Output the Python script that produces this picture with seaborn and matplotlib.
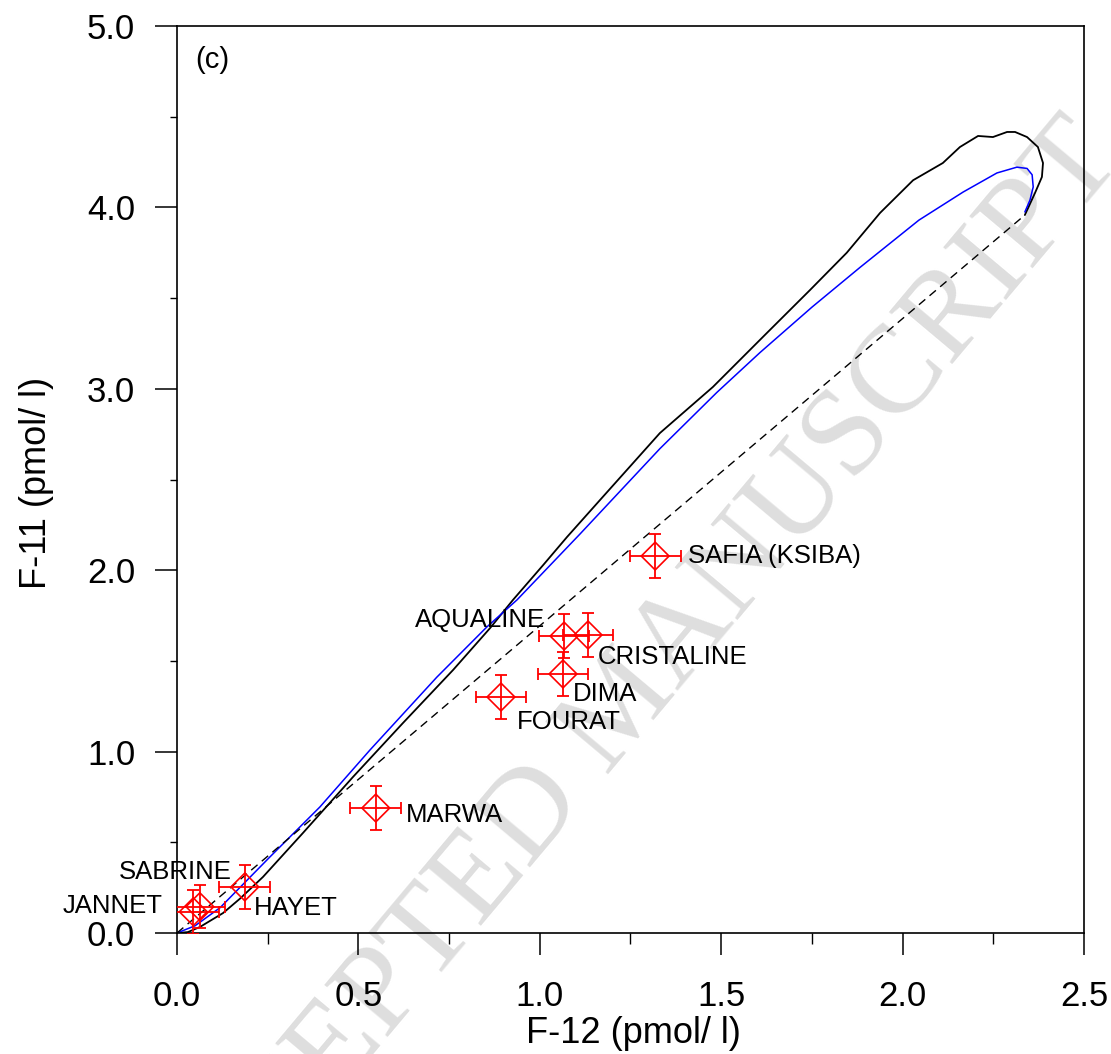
import numpy as np
import pandas as pd
import matplotlib
matplotlib.use("Agg")
import matplotlib.pyplot as plt
import seaborn as sns
from matplotlib.ticker import MultipleLocator, FormatStrFormatter

# ---------------- data ----------------
samples = ["SAFIA (KSIBA)", "AQUALINE", "CRISTALINE", "DIMA", "FOURAT",
           "MARWA", "HAYET", "SABRINE", "JANNET"]
f12 = [1.318, 1.067, 1.133, 1.064, 0.893, 0.548, 0.187, 0.063, 0.045]
f11 = [2.078, 1.637, 1.643, 1.428, 1.301, 0.689, 0.254, 0.145, 0.117]
f12_err = [0.07, 0.07, 0.07, 0.07, 0.07, 0.07, 0.07, 0.07, 0.07]
f11_err = [0.12, 0.12, 0.12, 0.12, 0.12, 0.12, 0.12, 0.12, 0.12]

# piston-flow (atmospheric input) curve
piston_f12 = [0.0, 0.03, 0.063, 0.127, 0.174, 0.237, 0.347, 0.485, 0.623, 0.761,
              0.863, 0.926, 1.01, 1.075, 1.166, 1.331, 1.477, 1.626, 1.745,
              1.846, 1.938, 2.029, 2.111, 2.158, 2.208, 2.249, 2.288, 2.31,
              2.343, 2.373, 2.387, 2.384, 2.365, 2.337]
piston_f11 = [0.0, 0.005, 0.033, 0.11, 0.19, 0.309, 0.551, 0.86, 1.158, 1.45,
              1.681, 1.836, 2.03, 2.183, 2.387, 2.756, 3.01, 3.308, 3.545,
              3.75, 3.97, 4.15, 4.245, 4.333, 4.394, 4.388, 4.416, 4.416,
              4.388, 4.333, 4.245, 4.168, 4.08, 3.958]

# exponential model curve
expo_f12 = [0.0, 0.05, 0.119, 0.256, 0.394, 0.532, 0.716, 0.854, 0.937, 1.111,
            1.331, 1.488, 1.607, 1.75, 1.883, 2.045, 2.167, 2.26, 2.315, 2.343,
            2.357, 2.36, 2.351, 2.337]
expo_f11 = [0.0, 0.04, 0.14, 0.419, 0.695, 1.009, 1.41, 1.687, 1.836, 2.2,
            2.67, 2.98, 3.2, 3.45, 3.67, 3.93, 4.085, 4.19, 4.222, 4.215,
            4.18, 4.113, 4.04, 3.975]

# binary mixing line
mix_f12 = [0.0, 2.337]
mix_f11 = [0.0, 3.958]

# label placement (offsets, alignment)
label_dx = [0.09, -0.053, 0.027, 0.027, 0.044, 0.083, 0.025, 0.088, -0.084]
label_dy = [0.0, 0.088, -0.122, -0.111, -0.138, -0.039, -0.116, 0.191, 0.032]
label_ha = ["left", "right", "left", "left", "left", "left", "left", "right", "right"]

# ---------------- figure ----------------
sns.set_theme(style="ticks")
plt.rcParams["font.family"] = ["Liberation Sans", "DejaVu Sans"]

fig = plt.figure(figsize=(11.11, 10.54), dpi=100)
fig.patch.set_facecolor("white")
ax = fig.add_axes([0.1593, 0.1148, 0.8164, 0.8605])
ax.set_facecolor("none")

# watermark
fig.text(625 / 1111, 1 - 708 / 1054, "ACCEPTED MANUSCRIPT", rotation=50,
         rotation_mode="anchor", ha="center", va="center", fontsize=90,
         family=["Liberation Serif", "DejaVu Serif"], color="#dedede", zorder=-1)

df_p = pd.DataFrame({"F12": piston_f12, "F11": piston_f11})
df_e = pd.DataFrame({"F12": expo_f12, "F11": expo_f11})
df_m = pd.DataFrame({"F12": mix_f12, "F11": mix_f11})

sns.lineplot(data=df_p, x="F12", y="F11", sort=False, estimator=None,
             color="black", linewidth=1.3, ax=ax)
sns.lineplot(data=df_e, x="F12", y="F11", sort=False, estimator=None,
             color="#0000ff", linewidth=1.1, ax=ax)
sns.lineplot(data=df_m, x="F12", y="F11", sort=False, estimator=None,
             color="black", linewidth=1.0, linestyle=(0, (6, 4)), ax=ax)

ax.errorbar(f12, f11, xerr=f12_err, yerr=f11_err, fmt="none", ecolor="red",
            elinewidth=1.3, capsize=4.5, capthick=1.3, zorder=3)
sns.scatterplot(x=f12, y=f11, marker="D", s=200, facecolor="none",
                edgecolor="red", linewidth=1.2, ax=ax, zorder=4)

for name, x, y, dx, dy, ha in zip(samples, f12, f11, label_dx, label_dy, label_ha):
    ax.text(x + dx, y + dy, name, ha=ha, va="center", fontsize=18.5, color="black")

ax.text(0.02, 0.963, "(c)", transform=ax.transAxes, ha="left", va="center",
        fontsize=21, color="black")

ax.set_xlim(0, 2.5)
ax.set_ylim(0, 5.0)
ax.xaxis.set_major_locator(MultipleLocator(0.5))
ax.xaxis.set_minor_locator(MultipleLocator(0.25))
ax.yaxis.set_major_locator(MultipleLocator(1.0))
ax.yaxis.set_minor_locator(MultipleLocator(0.5))
ax.xaxis.set_major_formatter(FormatStrFormatter("%.1f"))
ax.yaxis.set_major_formatter(FormatStrFormatter("%.1f"))

ax.tick_params(axis="both", which="major", direction="out", length=16,
               width=1.1, color="black", labelsize=25, labelcolor="black")
ax.tick_params(axis="x", which="major", pad=18)
ax.tick_params(axis="y", which="major", pad=14)
ax.tick_params(axis="x", which="minor", direction="out", length=8, width=1.0, color="black")
ax.tick_params(axis="y", which="minor", direction="out", length=5, width=1.0, color="black")
ax.tick_params(top=False, right=False)

for s in ax.spines.values():
    s.set_visible(True)
    s.set_color("black")
    s.set_linewidth(1.2)

ax.set_xlabel("F-12 (pmol/ l)", fontsize=26, color="black")
ax.set_ylabel("F-11 (pmol/ l)", fontsize=26, color="black")
ax.xaxis.set_label_coords(0.503, -0.092)
ax.yaxis.set_label_coords(-0.136, 0.496)

fig.savefig("out.png", dpi=100, facecolor="white")
